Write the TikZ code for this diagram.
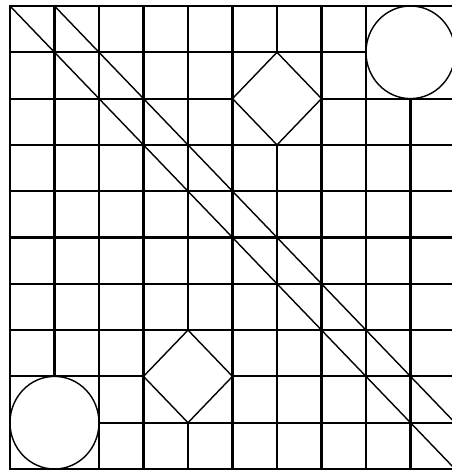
\documentclass[tikz,border=0pt]{standalone}
\usepackage{tikz}

\begin{document}
\begin{tikzpicture}[x=1.335cm,y=-1.389cm,
  gridline/.style={line width=1.8pt},
  frameline/.style={line width=2.4pt},
  thinline/.style={line width=1.2pt}]
\useasboundingbox (-0.2247,-0.1296) rectangle (9.933,10.065);
% vertical lines
\draw[gridline] (1,0) -- (1,8);
\draw[gridline] (2,0) -- (2,10);
\draw[gridline] (3,0) -- (3,10);
\draw[gridline] (4,0) -- (4,7);
\draw[gridline] (4,9) -- (4,10);
\draw[gridline] (5,0) -- (5,10);
\draw[gridline] (6,0) -- (6,1);
\draw[gridline] (6,3) -- (6,10);
\draw[gridline] (7,0) -- (7,10);
\draw[gridline] (8,0) -- (8,10);
\draw[gridline] (9,2) -- (9,10);
% horizontal lines
\draw[gridline] (0,1) -- (8,1);
\draw[gridline] (0,2) -- (5,2);
\draw[gridline] (7,2) -- (10,2);
\draw[gridline] (0,3) -- (10,3);
\draw[gridline] (0,4) -- (10,4);
\draw[gridline] (0,5) -- (10,5);
\draw[gridline] (0,6) -- (10,6);
\draw[gridline] (0,7) -- (10,7);
\draw[gridline] (0,8) -- (3,8);
\draw[gridline] (5,8) -- (10,8);
\draw[gridline] (2,9) -- (10,9);
\draw[frameline] (0,0) rectangle (10,10);
% diagonals
\draw[thinline] (0,0) -- (10,10);
\draw[thinline] (1,0) -- (10,9);
% circles and diamonds
\draw[thinline] (9,1) circle[radius=1];
\draw[thinline] (1,9) circle[radius=1];
\draw[thinline] (6,1) -- (7,2) -- (6,3) -- (5,2) -- cycle;
\draw[thinline] (4,7) -- (5,8) -- (4,9) -- (3,8) -- cycle;
\end{tikzpicture}
\end{document}
